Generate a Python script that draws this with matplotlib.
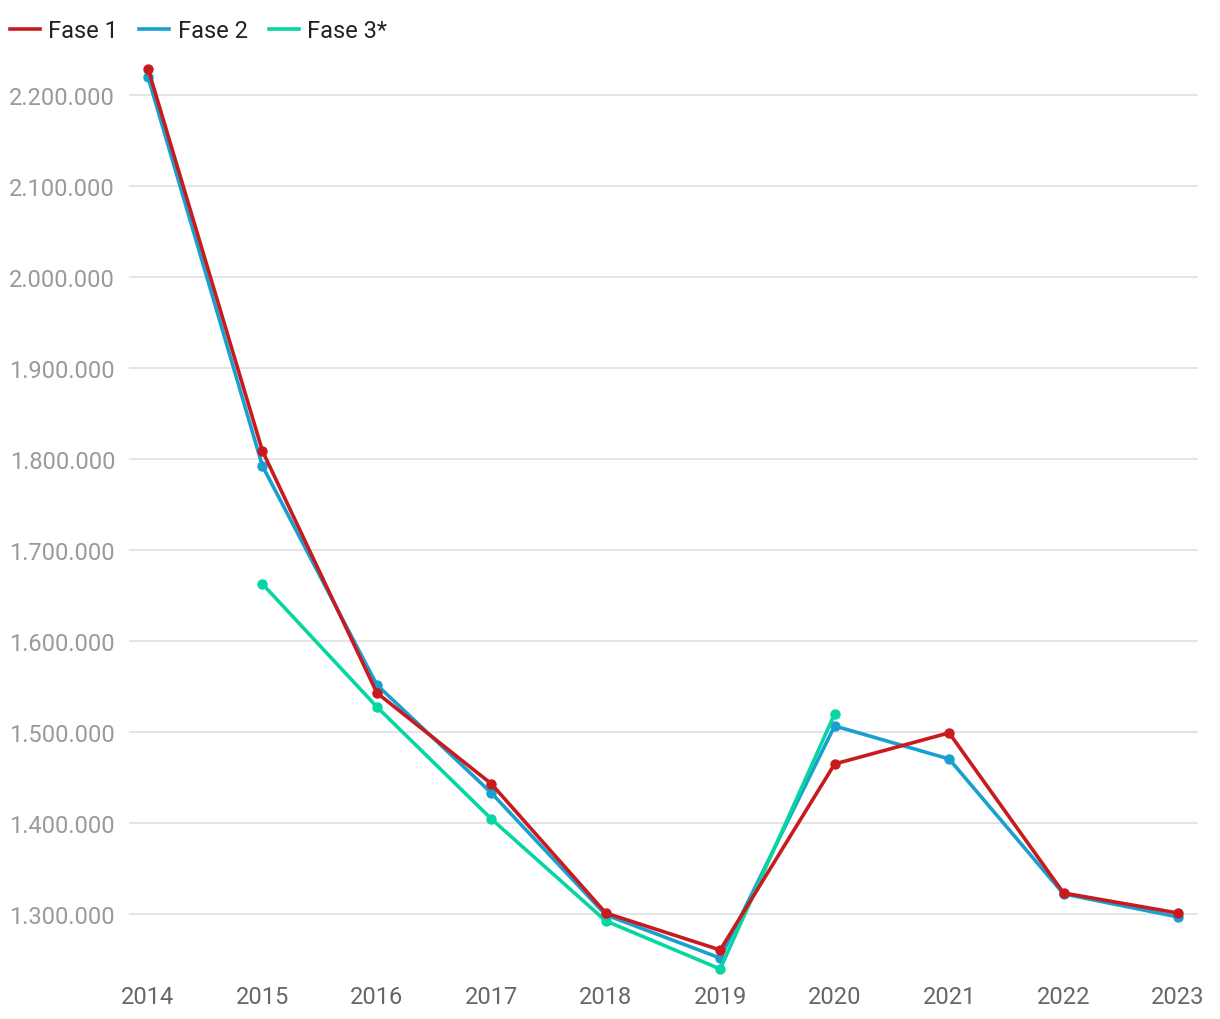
import matplotlib.pyplot as plt
from matplotlib.ticker import FuncFormatter

plt.rcParams['font.family'] = ['Roboto', 'DejaVu Sans']

years = [2014, 2015, 2016, 2017, 2018, 2019, 2020, 2021, 2022, 2023]
fase1 = [2229000, 1808800, 1542900, 1443000, 1301000, 1260400, 1464800, 1499000, 1323000, 1301000]
fase2 = [2219800, 1792300, 1551700, 1433000, 1299000, 1251500, 1506600, 1470300, 1322000, 1296700]
years3 = [2015, 2016, 2017, 2018, 2019, 2020]
fase3 = [1662600, 1527500, 1404400, 1292300, 1239500, 1519800]
yticks = [1300000, 1400000, 1500000, 1600000, 1700000, 1800000, 1900000, 2000000, 2100000, 2200000]

red = '#c71b1f'
blue = '#1aa0cf'
green = '#08d6a2'

fig = plt.figure(figsize=(12.2, 10.2), dpi=100)
ax = fig.add_axes([129 / 1220, 44 / 1020, (1198 - 129) / 1220, (976 - 55) / 1020])

ax.plot(years, fase2, color=blue, lw=2.6, marker='o', ms=6.5, label='Fase 2', zorder=3)
ax.plot(years3, fase3, color=green, lw=2.6, marker='o', ms=6.5, label='Fase 3*', zorder=3.5)
ax.plot(years, fase1, color=red, lw=2.6, marker='o', ms=6.5, label='Fase 1', zorder=4)

ax.set_xlim(2013.834, 2023.175)
ax.set_ylim(1232900, 2245000)
ax.set_xticks(years)
ax.set_yticks(yticks)
ax.yaxis.set_major_formatter(FuncFormatter(lambda v, p: f'{int(v):,}'.replace(',', '.')))
ax.grid(axis='y', color='#e2e2e2', lw=1.3)
ax.set_axisbelow(True)
for s in ax.spines.values():
    s.set_visible(False)
ax.tick_params(axis='y', length=0, pad=10, labelsize=17, labelcolor='#9a9a9a')
ax.tick_params(axis='x', length=0, pad=7, labelsize=17, labelcolor='#666666')

h, l = ax.get_legend_handles_labels()
order = [2, 0, 1]
fig.legend([h[i] for i in order], [l[i] for i in order], loc='upper left',
           bbox_to_anchor=(10 / 1220, 1 - 20 / 1020), ncol=3, frameon=False, fontsize=17,
           borderpad=0, borderaxespad=0,
           handlelength=1.27, handletextpad=0.35, columnspacing=0.9,
           markerscale=0, labelcolor='#222222')

fig.savefig('out.png', dpi=100)
